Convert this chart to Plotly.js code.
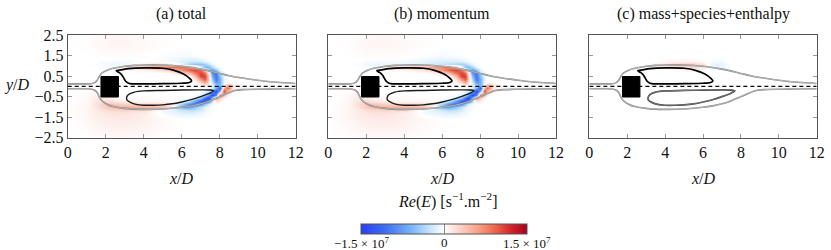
<!DOCTYPE html>
<html><head><meta charset="utf-8">
<script src="https://cdn.plot.ly/plotly-3.0.1.min.js"></script>
<style>
html,body{margin:0;padding:0;background:#fff}
#chart{width:831px;height:250px}
svg text, svg tspan{font-family:'Liberation Serif','Times New Roman',Times,'DejaVu Serif',serif !important;}
</style>
</head><body><div id="chart"></div>
<script>
// ---- data grid (x/D, y/D) ----
const gridX = [0,1,1.5,2,2.5,3,3.5,4,4.5,5,5.5,6,6.4,6.7,7.0,7.2,7.4,7.6,7.8,8.0,8.2,8.4,8.7,9.2,10,12];
const gridY = [-2.5,-2,-1.6,-1.3,-1.15,-1.0,-0.85,-0.7,-0.55,-0.4,-0.25,-0.1,0.05,0.2,0.35,0.5,0.65,0.8,0.95,1.1,1.25,1.5,2,2.5];

// Re(E) in units of 1e7 s^-1.m^-2, momentum contribution (rows = gridY, cols = gridX)
const zMomentum = [
 [0,0.01,0.02,0.03,0.04,0.04,0.04,0.03,0.02,0.01,0,0,0,0,0,0,0,0,0,0,0,0,0,0,0,0],
 [0,0.03,0.06,0.08,0.09,0.09,0.08,0.07,0.05,0.03,0.02,0.01,0,0,0,0,0,0,0,0,0,0,0,0,0,0],
 [0,0.05,0.09,0.12,0.13,0.13,0.12,0.1,0.07,0.04,0.02,0,0,0,0,0,0,0,0,0,0,0,0,0,0,0],
 [0,0.05,0.11,0.15,0.17,0.17,0.15,0.11,0.05,-0.03,-0.08,-0.12,-0.14,-0.12,-0.08,-0.05,-0.02,0,0,0,0,0,0,0,0,0],
 [0,0.05,0.12,0.2,0.25,0.27,0.25,0.2,0.08,-0.05,-0.12,-0.22,-0.28,-0.25,-0.18,-0.1,-0.05,-0.02,0,0,0,0,0,0,0,0],
 [0,0.05,0.15,0.32,0.45,0.5,0.5,0.5,0.48,0.4,0.1,-0.6,-0.7,-0.5,-0.25,-0.12,-0.05,-0.02,0,0,0,0,0,0,0,0],
 [0,0.04,0.17,0.36,0.36,0.3,0.25,0.22,0.22,0.22,0.1,-0.4,-0.85,-1.1,-0.85,-0.45,-0.15,-0.05,0,0,0,0,0,0,0,0],
 [0,0.04,0.15,0.22,0.14,0.08,0.06,0.05,0.05,0.05,0.03,-0.05,-0.3,-0.7,-1.2,-1.3,-0.9,-0.3,0.2,0.1,0,0,0,0,0,0],
 [0,0.03,0.12,0.12,0.06,0.03,0.02,0.02,0.02,0.02,0.02,0,-0.05,-0.15,-0.5,-1.1,-1.45,-0.5,0.7,0.3,0.05,0,0,0,0,0],
 [0,0.03,0.08,0,0,0,0,0,0,0,0,0,0,-0.03,-0.1,-0.3,-0.8,-1.4,-0.9,0.9,0.4,0.05,0,0,0,0],
 [0,0.01,0.03,0,0,0,0,0,0,0,0,0,0,0,-0.02,-0.05,-0.2,-0.6,-1.4,-0.6,1.1,0.4,0.03,0,0,0],
 [0,0,0,0,0,0,0,0,0,0,0,0,0,0,0,0,-0.05,-0.15,-0.6,-1.2,0.5,0.9,0.15,0,0,0],
 [0,0,0,0,0,0,0,0,0,0,0,0,0,0,0,0.15,0.05,-0.1,-0.4,-0.6,0,0.5,0.15,0,0,0],
 [0,0,0,0,0,0,0,0,0,0,0,0,0,0.03,0.3,0.6,0.2,-0.2,-0.8,-0.6,-0.1,0,0,0,0,0],
 [0,0,0,0,0,0,0,0,0,0,0,0,0,0.15,0.7,1.0,0.3,-0.4,-1.0,-0.6,-0.1,0,0,0,0,0],
 [0,0,0,0,0,0,0,0,0,0,0,0,0.05,0.4,1.1,1.1,0.3,-0.6,-1.05,-0.5,-0.05,0,0,0,0,0],
 [0,0,0,0,0,0,0,0,0,0,0.05,0.2,0.45,0.8,1.1,0.9,0.1,-0.8,-1.0,-0.3,-0.05,0,0,0,0,0],
 [0,0,0,0.02,0.03,0.04,0.05,0.07,0.1,0.15,0.3,0.65,0.95,1.1,0.9,0.35,-0.35,-0.75,-0.5,-0.1,0,0,0,0,0,0],
 [0,0,0,-0.04,-0.02,0.12,0.2,0.3,0.4,0.5,0.6,0.75,0.8,0.5,-0.05,-0.5,-0.55,-0.35,-0.1,-0.02,0,0,0,0,0,0],
 [0,0,-0.02,-0.06,-0.08,-0.08,-0.06,-0.08,-0.1,-0.15,-0.2,-0.25,-0.3,-0.35,-0.4,-0.35,-0.2,-0.08,-0.02,0,0,0,0,0,0,0],
 [0,0,0,-0.03,-0.04,-0.04,-0.04,-0.04,-0.06,-0.1,-0.12,-0.15,-0.15,-0.15,-0.12,-0.08,-0.04,-0.01,0,0,0,0,0,0,0,0],
 [0,0,0.01,0.02,0.02,0.02,0.02,0.01,0,-0.02,-0.03,-0.04,-0.03,-0.02,-0.01,0,0,0,0,0,0,0,0,0,0,0],
 [0,0.01,0.03,0.05,0.06,0.06,0.05,0.04,0.03,0.02,0.01,0,0,0,0,0,0,0,0,0,0,0,0,0,0,0],
 [0,0.01,0.03,0.05,0.06,0.06,0.05,0.04,0.03,0.02,0.01,0,0,0,0,0,0,0,0,0,0,0,0,0,0,0]
];

// mass + species + enthalpy contribution (same grid)
const zMassSpeciesEnthalpy = [
 [0,0,0,0,0,0,0,0,0,0,0,0,0,0,0,0,0,0,0,0,0,0,0,0,0,0],
 [0,0,0,0,0,0,0,0,0,0,0,0,0,0,0,0,0,0,0,0,0,0,0,0,0,0],
 [0,0,0,0,0,0,0,0,0,0,0,0,0,0,0,0,0,0,0,0,0,0,0,0,0,0],
 [0,0,0,0,0,0,0,0,0,0,0,0,0,0,0,0,0,0,0,0,0,0,0,0,0,0],
 [0,0,0,0,0,0,0,0,0,0,0,0,0,0,0,0,0,0,0,0,0,0,0,0,0,0],
 [0,0,0,0,0,0,0,0,0,0,0,0,0,0,0,0,0,0,0,0,0,0,0,0,0,0],
 [0,0,0,0,0,0,0,0,0,0,0,0,0,0,0,0,0,0,0,0,0,0,0,0,0,0],
 [0,0,0,0,0,0,0,0,0,0,0,0,0,0,0,0,0,0,0,0,0,0,0,0,0,0],
 [0,0,0,0,0,0,0,0,0,0,0,0,0,0,0,0,0,0,0,0,0,0,0,0,0,0],
 [0,0,0,0,0,0,0,0,0,0,0,0,0,0,0,0,0,0,0,0,0,0,0,0,0,0],
 [0,0,0,0,0,0,0,0,0,0,0,0,0,0,0,0,0,0,0,0,0,0,0,0,0,0],
 [0,0,0,0,0,0,0,0,0,0,0,0,0,0,0,0,0,0,0,0,0,0,0,0,0,0],
 [0,0,0,0,0,0,0,0,0,0,0,0,0,0,0,0,0,0,0,0,0,0,0,0,0,0],
 [0,0,0,0,0,0,0,0,0,0,0,0,0,0,0,0,0,0,0,0,0,0,0,0,0,0],
 [0,0,0,0,0,0,0,0,0,0,0,0,0,0,0,0,0,0,0,0,0,0,0,0,0,0],
 [0,0,0,0,0,0,0,0,0,0,0,0,0,0,0,0,0,0,0,0,0,0,0,0,0,0],
 [0,0,0,0,0,0,0,0,0,0,0,0,0,0,0,0,0,0,0,0,0,0,0,0,0,0],
 [0,0,0,0,0,0,0,0,0.03,0.05,0.05,0.02,0,-0.02,0,0,0,0,0,0,0,0,0,0,0,0],
 [0,0,0,0,0,0,0.05,0.12,0.2,0.25,0.25,0.12,-0.05,-0.1,-0.08,-0.05,-0.02,0,0,0,0,0,0,0,0,0],
 [0,0,0,0,0,0,0.08,0.15,0.25,0.3,0.3,0.15,-0.08,-0.12,-0.1,-0.06,-0.03,0,0,0,0,0,0,0,0,0],
 [0,0,0,0,0,0,0,0.04,0.06,0.07,0.06,0.02,-0.03,-0.04,-0.03,0,0,0,0,0,0,0,0,0,0,0],
 [0,0,0,0,0,0,0,0,0,0,0,0,0,0,0,0,0,0,0,0,0,0,0,0,0,0],
 [0,0,0,0,0,0,0,0,0,0,0,0,0,0,0,0,0,0,0,0,0,0,0,0,0,0],
 [0,0,0,0,0,0,0,0,0,0,0,0,0,0,0,0,0,0,0,0,0,0,0,0,0,0]
];

// total = momentum + mass/species/enthalpy
const zTotal = zMomentum.map((row, i) => row.map((v, j) => v + zMassSpeciesEnthalpy[i][j]));

const panelTitles = ['(a) total', '(b) momentum', '(c) mass+species+enthalpy'];
const xTicks = [0, 2, 4, 6, 8, 10, 12];
const yTicks = [-2.5, -1.5, -0.5, 0.5, 1.5, 2.5];

// mean-flow contour lines
const outerUpperX = [0,0.8,1.2,1.4,1.55,1.65,1.8,2.1,2.4,3.0,3.5,4.0,5.0,6.0,6.5,7.0,7.5,8.0,8.5,9.0,10.0,11.0,12.0];
const outerUpperY = [0.12,0.12,0.13,0.17,0.3,0.47,0.65,0.8,0.88,0.98,1.02,1.04,1.04,0.98,0.92,0.84,0.74,0.63,0.52,0.43,0.3,0.2,0.14];
const outerLowerX = [0,0.8,1.2,1.4,1.55,1.65,1.8,2.1,2.4,3.0,4.0,5.0,6.0,6.5,7.0,7.5,8.0,8.5,8.8,9.2,10,11,12];
const outerLowerY = [-0.12,-0.12,-0.13,-0.18,-0.3,-0.5,-0.7,-0.88,-0.98,-1.07,-1.12,-1.1,-1.02,-0.95,-0.85,-0.7,-0.5,-0.3,-0.2,-0.16,-0.14,-0.13,-0.12];
const upperLoopX = [2.55,2.8,3.2,4.0,5.0,5.6,6.1,6.4,6.52,6.4,6.0,5.0,4.0,3.4,3.2,3.05,2.95,2.85,2.7,2.55];
const upperLoopY = [0.76,0.8,0.86,0.9,0.88,0.78,0.6,0.4,0.27,0.19,0.15,0.13,0.12,0.12,0.15,0.25,0.4,0.55,0.68,0.76];
const lowerLoopX = [3.1,3.2,3.5,4.0,5.0,6.0,7.0,7.5,7.68,7.5,7.0,6.5,6.0,5.5,5.0,4.5,4.0,3.6,3.3,3.12,3.1];
const lowerLoopY = [-0.55,-0.4,-0.28,-0.22,-0.2,-0.18,-0.17,-0.18,-0.22,-0.32,-0.5,-0.65,-0.76,-0.85,-0.9,-0.92,-0.92,-0.88,-0.78,-0.67,-0.55];
const centerLineX = [0, 12];
const centerLineY = [0, 0];
const blockX = [1.75, 2.67, 2.67, 1.75, 1.75];
const blockY = [-0.52, -0.52, 0.48, 0.48, -0.52];

const cbTickVals = [-1.5, 0, 1.5];
const cbTickText = ['\u22121.5 \u00d7 10<sup>7</sup>', '0', '1.5 \u00d7 10<sup>7</sup>'];

const colorscale = [
  [0, '#2a3ef2'], [0.15, '#3f6ff3'], [0.3, '#78b4f6'], [0.42, '#c8e6fb'], [0.5, '#ffffff'],
  [0.58, '#fbd9d1'], [0.7, '#f6a488'], [0.8, '#ee6a50'], [0.9, '#d2262b'], [1, '#a8001e']
];

const serif = 'Liberation Serif';
const domainsX = [[0.0815, 0.3558], [0.3951, 0.6691], [0.7092, 0.9828]];
const domainY = [0.4492, 0.86];
const fields = [zTotal, zMomentum, zMassSpeciesEnthalpy];

const traces = [];
const layout = {
  width: 831, height: 250, margin: {l: 0, r: 0, t: 0, b: 0, autoexpand: false},
  paper_bgcolor: '#fff', plot_bgcolor: '#fff', showlegend: false,
  font: {family: serif, size: 16, color: '#111'},
  annotations: []
};

fields.forEach((z, i) => {
  const sfx = i === 0 ? '' : String(i + 1);
  const xa = 'x' + sfx, ya = 'y' + sfx;
  traces.push({
    type: 'heatmap', x: gridX, y: gridY, z: z, xaxis: xa, yaxis: ya,
    zmin: -1.5, zmax: 1.5, zsmooth: 'best', colorscale: colorscale, hoverinfo: 'skip',
    showscale: i === 0,
    colorbar: {
      orientation: 'h', x: 0.5343, xanchor: 'center', y: 0.106, yanchor: 'top',
      len: 0.1998, lenmode: 'fraction', thickness: 10, xpad: 0, ypad: 0,
      outlinewidth: 1, outlinecolor: '#555',
      tickvals: cbTickVals, ticks: 'inside', ticklen: 10, tickcolor: '#888',
      showticklabels: false
    }
  });
  const line = (x, y, color, width, dash) => ({
    type: 'scatter', mode: 'lines', x: x, y: y, xaxis: xa, yaxis: ya, hoverinfo: 'skip',
    line: {color: color, width: width, dash: dash || 'solid', shape: 'spline', smoothing: 0.8}
  });
  traces.push(line(outerUpperX, outerUpperY, '#7a7a7a', 1.6));
  traces.push(line(outerUpperX, outerUpperY, '#ffffff', 0.45));
  traces.push(line(outerLowerX, outerLowerY, '#7a7a7a', 1.6));
  traces.push(line(outerLowerX, outerLowerY, '#ffffff', 0.45));
  if (i === 2) {
    traces.push(line(lowerLoopX, lowerLoopY, '#333333', 1.7));
    traces.push(line(lowerLoopX, lowerLoopY, '#dddddd', 0.4));
  } else {
    traces.push(line(lowerLoopX, lowerLoopY, '#1a1a1a', 1.4));
  }
  traces.push(line(upperLoopX, upperLoopY, '#000000', 1.7));
  const cl = line(centerLineX, centerLineY, '#000', 1.3, '4px,3px');
  cl.line.shape = 'linear';
  traces.push(cl);
  traces.push({type: 'scatter', mode: 'lines', x: blockX, y: blockY, xaxis: xa, yaxis: ya,
    fill: 'toself', fillcolor: '#000', line: {color: '#000', width: 1}, hoverinfo: 'skip'});

  layout['xaxis' + sfx] = {
    domain: domainsX[i], anchor: ya, range: [0, 12], tickvals: xTicks,
    ticks: 'inside', ticklen: 4, tickcolor: '#999', tickwidth: 1, mirror: 'ticks',
    showline: true, linecolor: '#555', linewidth: 1, showgrid: false, zeroline: false,
    tickfont: {family: serif, size: 16, color: '#111'}, fixedrange: true
  };
  layout['yaxis' + sfx] = {
    domain: domainY, anchor: xa, range: [-2.5, 2.5], tickvals: yTicks, tickformat: '.1f',
    ticks: 'inside', ticklen: 4, tickcolor: '#999', tickwidth: 1, mirror: 'ticks',
    showline: true, linecolor: '#555', linewidth: 1, showgrid: false, zeroline: false,
    showticklabels: i === 0,
    tickfont: {family: serif, size: 16, color: '#111'}, fixedrange: true
  };
  const cx = (domainsX[i][0] + domainsX[i][1]) / 2;
  layout.annotations.push({xref: 'paper', yref: 'paper', x: cx, y: 0.946, text: panelTitles[i],
    showarrow: false, xanchor: 'center', yanchor: 'middle', font: {family: serif, size: 16, color: '#111'}});
  layout.annotations.push({xref: 'paper', yref: 'paper', x: cx, y: 0.288, text: '<i>x</i>/<i>D</i>',
    showarrow: false, xanchor: 'center', yanchor: 'middle', font: {family: serif, size: 16, color: '#111'}});
});

layout.annotations.push({xref: 'paper', yref: 'paper', x: 0.021, y: 0.66, text: '<i>y</i>/<i>D</i>',
  showarrow: false, xanchor: 'center', yanchor: 'middle', font: {family: serif, size: 16, color: '#111'}});
layout.annotations.push({xref: 'paper', yref: 'paper', x: 0.539, y: 0.2,
  text: '<i>Re</i>(<i>E</i>) [s<sup>\u22121</sup>.m<sup>\u22122</sup>]',
  showarrow: false, xanchor: 'center', yanchor: 'middle', font: {family: serif, size: 16, color: '#111'}});
// colorbar tick labels
const cbLabelX = [361 / 831, 444 / 831, 527 / 831];
cbTickVals.forEach((v, k) => {
  layout.annotations.push({xref: 'paper', yref: 'paper', x: cbLabelX[k], y: 0.03, text: cbTickText[k],
    showarrow: false, xanchor: 'center', yanchor: 'middle', font: {family: serif, size: 13, color: '#111'}});
});

Plotly.newPlot('chart', traces, layout, {staticPlot: true, displayModeBar: false});
</script>
</body></html>
